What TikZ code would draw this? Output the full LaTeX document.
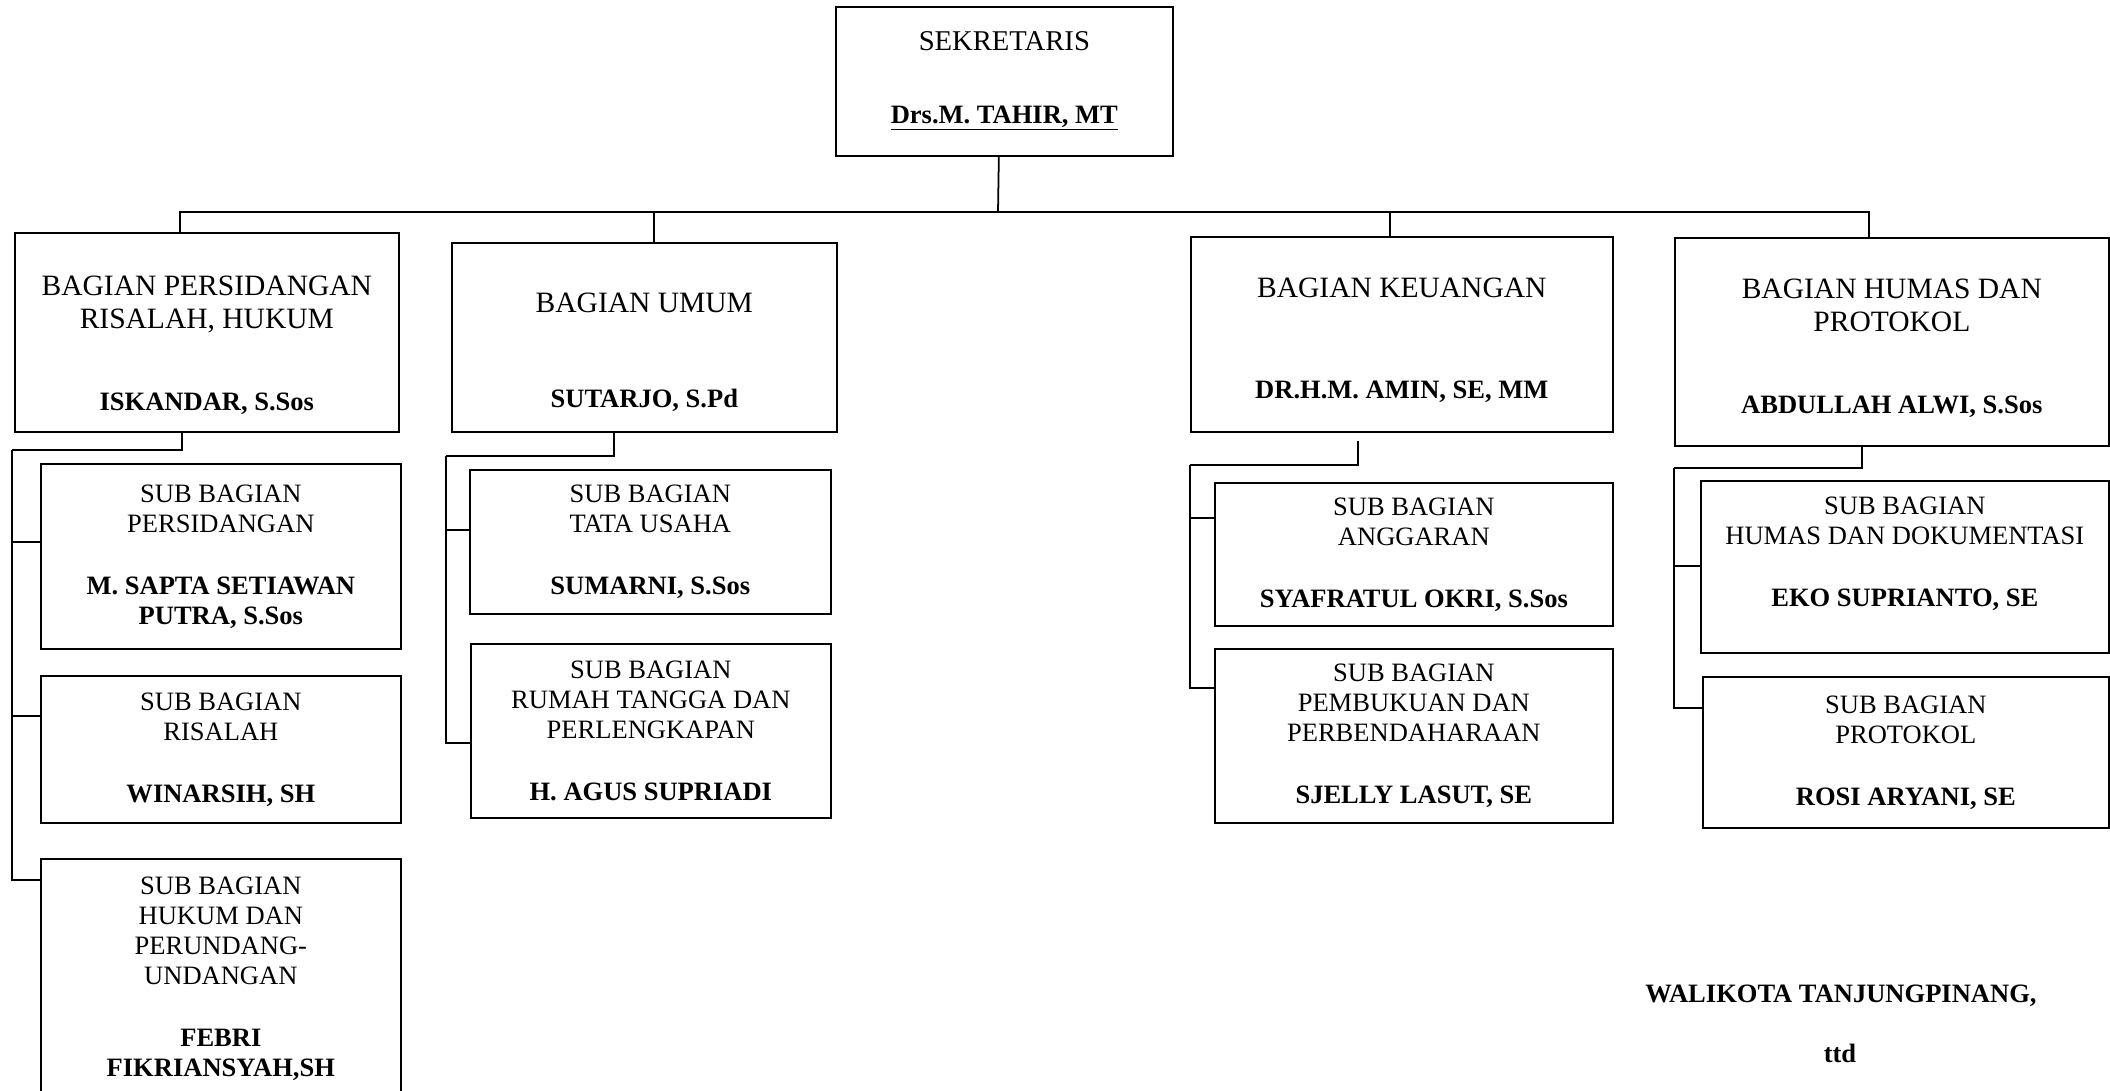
\documentclass[tikz,border=0pt]{standalone}
\usepackage{fontspec}
\setmainfont{Liberation Serif}
\tikzset{
  box/.style={draw=black, line width=1pt, align=center, inner sep=0pt, anchor=north west},
  headbox/.style={box, font=\fontsize{16.8}{18.8}\selectfont},
  topbox/.style={box, font=\fontsize{16.3}{18.3}\selectfont},
  subbox/.style={box, font=\fontsize{15.1}{17.1}\selectfont},
  link/.style={draw=black, line width=1pt},
  sign/.style={font=\fontsize{15.1}{17.1}\selectfont\bfseries, anchor=base, inner sep=0pt},
}
\newcommand{\who}[1]{{\fontsize{15.1}{17.1}\selectfont\bfseries #1}}
\newcommand{\pad}[1]{\rule{0pt}{#1}}

\begin{document}
\begin{tikzpicture}[x=0.02cm, y=-0.02cm]
  \useasboundingbox (0,0) rectangle (2110,1090);
  % top
  \node[topbox, minimum width=6.74cm, minimum height=2.98cm] (sek) at (835,6)
    {SEKRETARIS\\[22.8pt]\who{\underline{Drs.M. TAHIR, MT}}};
  % bagian
  \node[headbox, minimum width=7.68cm, minimum height=3.98cm] (b1) at (14,232)
    {\pad{25.9pt}BAGIAN PERSIDANGAN\\RISALAH, HUKUM\\[27.9pt]\who{ISKANDAR, S.Sos}};
  \node[headbox, minimum width=7.70cm, minimum height=3.78cm] (b2) at (451,242)
    {\pad{28.1pt}BAGIAN UMUM\\[35.8pt]\who{SUTARJO, S.Pd}};
  \node[headbox, minimum width=8.44cm, minimum height=3.90cm] (b3) at (1190,236)
    {\pad{17.9pt}BAGIAN KEUANGAN\\[38.7pt]\who{DR.H.M. AMIN, SE, MM}};
  \node[headbox, minimum width=8.68cm, minimum height=4.16cm] (b4) at (1674,237)
    {\pad{17.9pt}BAGIAN HUMAS DAN\\PROTOKOL\\[27.9pt]\who{ABDULLAH ALWI, S.Sos}};
  % sub bagian
  \node[subbox, minimum width=7.20cm, minimum height=3.70cm] (b1a) at (40,463)
    {SUB BAGIAN\\PERSIDANGAN\\[18.2pt]\who{M. SAPTA SETIAWAN}\\\who{PUTRA, S.Sos}};
  \node[subbox, minimum width=7.20cm, minimum height=2.94cm] (b1b) at (40,675)
    {SUB BAGIAN\\RISALAH\\[18.2pt]\who{WINARSIH, SH}};
  \node[subbox, minimum width=7.20cm, minimum height=4.80cm] (b1c) at (40,858)
    {SUB BAGIAN\\HUKUM DAN\\PERUNDANG-\\UNDANGAN\\[18.2pt]\who{FEBRI}\\\who{FIKRIANSYAH,SH}};
  \node[subbox, minimum width=7.22cm, minimum height=2.88cm] (b2a) at (469,469)
    {SUB BAGIAN\\TATA USAHA\\[18.2pt]\who{SUMARNI, S.Sos}};
  \node[subbox, minimum width=7.20cm, minimum height=3.48cm] (b2b) at (470,643)
    {SUB BAGIAN\\RUMAH TANGGA DAN\\PERLENGKAPAN\\[18.2pt]\who{H. AGUS SUPRIADI}};
  \node[subbox, minimum width=7.96cm, minimum height=2.86cm] (b3a) at (1214,482)
    {SUB BAGIAN\\ANGGARAN\\[18.2pt]\who{SYAFRATUL OKRI, S.Sos}};
  \node[subbox, minimum width=7.96cm, minimum height=3.48cm] (b3b) at (1214,648)
    {SUB BAGIAN\\PEMBUKUAN DAN\\PERBENDAHARAAN\\[18.2pt]\who{SJELLY LASUT, SE}};
  \node[subbox, minimum width=8.16cm, minimum height=3.44cm] (b4a) at (1700,480)
    {SUB BAGIAN\\HUMAS DAN DOKUMENTASI\\[18.2pt]\who{EKO SUPRIANTO, SE}\\\mbox{}};
  \node[subbox, minimum width=8.12cm, minimum height=3.02cm] (b4b) at (1702,676)
    {SUB BAGIAN\\PROTOKOL\\[18.2pt]\who{ROSI ARYANI, SE}};
  % tanda tangan
  \node[sign] (wali) at (1841,1002) {WALIKOTA TANJUNGPINANG,};
  \node[sign] (ttd) at (1840,1062) {ttd};

  % garis
  \coordinate (bus) at (998,212);
  \draw[link] ([xshift=-0.11cm]sek.south) -- (bus);
  \draw[link] (bus) -| ([xshift=3.32cm]b1.north west);
  \draw[link] (bus) -| ([xshift=4.06cm]b2.north west);
  \draw[link] (bus) -| ([xshift=4.00cm]b3.north west);
  \draw[link] (bus) -| ([xshift=3.90cm]b4.north west);

  \coordinate (t1) at (12,450);
  \draw[link] ([xshift=3.36cm]b1.south west) |- (t1);
  \draw[link] (t1) |- ([yshift=-1.58cm]b1a.north west);
  \draw[link] (t1) |- ([yshift=-0.82cm]b1b.north west);
  \draw[link] (t1) |- ([yshift=-0.44cm]b1c.north west);

  \coordinate (t2) at (446,456);
  \draw[link] ([xshift=3.26cm]b2.south west) |- (t2);
  \draw[link] (t2) |- ([yshift=-1.22cm]b2a.north west);
  \draw[link] (t2) |- ([yshift=-2.00cm]b2b.north west);

  \coordinate (t3) at (1190,465);
  \draw[link] ([xshift=3.36cm,yshift=-0.16cm]b3.south west) |- (t3);
  \draw[link] (t3) |- ([yshift=-0.72cm]b3a.north west);
  \draw[link] (t3) |- ([yshift=-0.80cm]b3b.north west);

  \coordinate (t4) at (1674,468);
  \draw[link] ([xshift=3.76cm]b4.south west) |- (t4);
  \draw[link] (t4) |- ([yshift=-1.72cm]b4a.north west);
  \draw[link] (t4) |- ([yshift=-0.64cm]b4b.north west);
\end{tikzpicture}
\end{document}
